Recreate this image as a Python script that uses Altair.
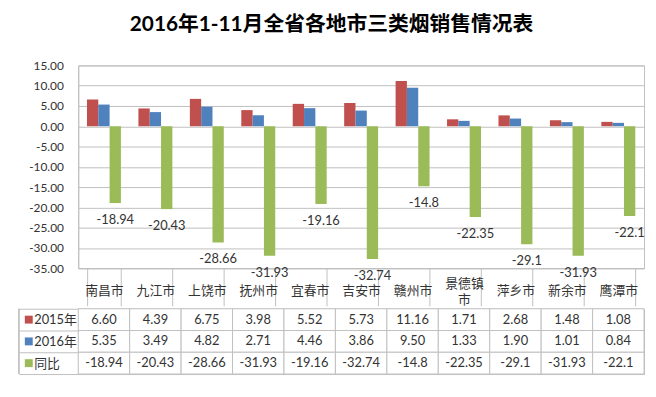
import altair as alt
import pandas as pd

cities = ["南昌市", "九江市", "上饶市", "抚州市", "宜春市", "吉安市", "赣州市", "景德镇市", "萍乡市", "新余市", "鹰潭市"]
sales_2015 = [6.60, 4.39, 6.75, 3.98, 5.52, 5.73, 11.16, 1.71, 2.68, 1.48, 1.08]
sales_2016 = [5.35, 3.49, 4.82, 2.71, 4.46, 3.86, 9.50, 1.33, 1.90, 1.01, 0.84]
yoy = [-18.94, -20.43, -28.66, -31.93, -19.16, -32.74, -14.8, -22.35, -29.1, -31.93, -22.1]
series = ["2015年", "2016年", "同比"]
colors = ["#C0504D", "#4F81BD", "#9BBB59"]
y_ticks = [15, 10, 5, 0, -5, -10, -15, -20, -25, -30, -35]
title_text = "2016年1-11月全省各地市三类烟销售情况表"

rows = []
for i, c in enumerate(cities):
    for s, vals in zip(series, [sales_2015, sales_2016, yoy]):
        v = vals[i]
        lab = f"{v:.2f}" if s != "同比" else f"{v}"
        rows.append({"city": c, "series": s, "value": v, "label": lab})
df = pd.DataFrame(rows)

FONT = "Lato, Noto Sans CJK SC, sans-serif"
GRID = "#bfbfbf"
TXT = "#333333"
W = 572

x_top = alt.X(
    "city:N", sort=cities,
    scale=alt.Scale(domain=cities, paddingInner=0.34, paddingOuter=0.17),
    axis=alt.Axis(title=None, labelAngle=0, tickBand="extent", tickSize=38, tickColor=GRID,
                  domain=True, domainColor=GRID,
                  labelPadding={"condition": {"test": "datum.value == '景德镇市'", "value": -22}, "value": -15},
                  labelBaseline="middle",
                  labelFontSize=13, labelColor=TXT, labelFont=FONT, labelLineHeight=16,
                  labelExpr="datum.label == '景德镇市' ? ['景德镇', '市'] : datum.label"),
)
y_top = alt.Y(
    "value:Q", scale=alt.Scale(domain=[-35, 15], nice=False, zero=False),
    axis=alt.Axis(title=None, values=y_ticks, ticks=False, labelPadding=15, grid=True, gridColor=GRID,
                  domain=True, domainColor=GRID, labelFontSize=12, labelFont=FONT, labelColor=TXT,
                  labelExpr="replace(format(datum.value, '.2f'), '\u2212', '-')"),
)
xoff = alt.XOffset("series:N", sort=series, scale=alt.Scale(domain=series))
color = alt.Color("series:N", scale=alt.Scale(domain=series, range=colors), legend=None)

bars = alt.Chart(df).mark_bar().encode(x=x_top, y=y_top, xOffset=xoff, color=color)
labels = alt.Chart(df).transform_filter(alt.datum.series == "同比").mark_text(
    dy=17, fontSize=13, font=FONT, color=TXT
).encode(x=x_top, y=y_top, xOffset=xoff, text="label:N")

top = alt.layer(bars, labels).properties(width=W, height=205)

x_tab = alt.X("city:N", sort=cities, scale=alt.Scale(domain=cities, paddingInner=0, paddingOuter=0), axis=None)
y_tab = alt.Y(
    "series:N", sort=series, scale=alt.Scale(domain=series, paddingInner=0, paddingOuter=0),
    axis=alt.Axis(title=None, tickBand="extent", tickSize=60, tickColor=GRID, domain=False, grid=False,
                  labelAlign="left", labelPadding=-15, labelFontSize=13, labelFont=FONT, labelColor=TXT),
)
cells = alt.Chart(df).mark_rect(fill="white", stroke=GRID, strokeWidth=1).encode(x=x_tab, y=y_tab)
cell_text = alt.Chart(df).mark_text(fontSize=13, font=FONT, color=TXT).encode(x=x_tab, y=y_tab, text="label:N")
swatch = alt.Chart(pd.DataFrame({"series": series})).mark_square(size=64, opacity=1).encode(
    x=alt.value(-50), y=y_tab, color=color
)
left_border = alt.Chart(pd.DataFrame({"series": series})).mark_rule(color=GRID).encode(
    x=alt.value(-60), y=alt.value(0), y2=alt.value(66)
)
table = alt.layer(cells, cell_text, swatch, left_border).properties(width=W, height=66)

chart = alt.vconcat(top, table, spacing=-6).resolve_scale(
    x="independent", y="independent"
).properties(
    title=alt.TitleParams(title_text, fontSize=21, font=FONT, fontWeight="bold", color="#000000",
                          anchor="middle", offset=24),
    padding={"left": 10, "top": 4, "right": 2, "bottom": 5},
    background="white",
).configure_view(stroke=GRID)

chart.save("out.html", embed_options={"renderer": "svg", "actions": False})
